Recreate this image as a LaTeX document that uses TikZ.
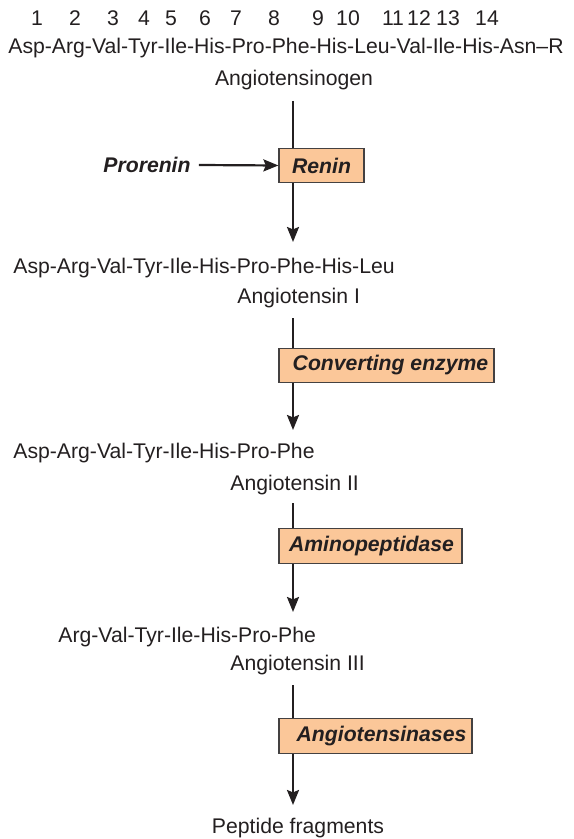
\documentclass[tikz,border=0pt]{standalone}
\usepackage{fontspec}
\setmainfont{Liberation Sans}
\usepackage{xcolor}
\usetikzlibrary{arrows.meta,positioning,calc}
\definecolor{enzfill}{RGB}{251,199,153}
\definecolor{ink}{RGB}{35,31,32}
\tikzset{
	seq/.style={inner sep=0pt,text=ink,font=\fontsize{10.6}{12.7}\selectfont},
	enzbox/.style={draw=ink!85,line width=0.6pt,fill=enzfill,minimum height=17.3pt,inner sep=0pt,text=ink,font=\fontsize{10.6}{12.7}\selectfont\bfseries\itshape},
	arr/.style={draw=ink,line width=1.1pt,-{Stealth[length=7.5pt,width=6pt,inset=1.2pt]}}
}

\begin{document}
\begin{tikzpicture}[x=0.5pt,y=-0.5pt]
	\useasboundingbox (0,0) rectangle (573,839);
	
	% residue numbers
	\foreach \n/\xx in {1/37,2/75,3/113,4/144,5/171,6/205,7/236,8/274,9/318,10/348,11/393,12/419,13/448,14/487}
		\node[seq] (num\n) at (\xx,18) {\n};
	
	% angiotensinogen
	\node[seq,anchor=west] (seq0) at (8,48) {Asp-Arg-Val-Tyr-Ile-His-Pro-Phe-His-Leu-Val-Ile-His-Asn–R};
	\node[seq] (agen) at (294,80) {Angiotensinogen};
	
	% main stem
	\coordinate (t1) at (293,101);
	\coordinate (h1) at (293,242);
	\coordinate (t2) at (293,318);
	\coordinate (h2) at (293,430);
	\coordinate (t3) at (293,503);
	\coordinate (h3) at (293,612);
	\coordinate (t4) at (293,685);
	\coordinate (h4) at (293,805);
	
	\draw[arr] (t1)--(h1);
	\draw[arr] (t2)--(h2);
	\draw[arr] (t3)--(h3);
	\draw[arr] (t4)--(h4);
	
	% enzymes
	\node[enzbox,minimum width=42.5pt] (renin) at (321.5,165.5) {Renin\hspace{5pt}};
	\node[enzbox,minimum width=107.5pt] (ace) at (386.5,365.5) {\hspace{4pt}Converting enzyme};
	\node[enzbox,minimum width=91.5pt] (amino) at (370.5,546) {\hspace{1pt}Aminopeptidase};
	\node[enzbox,minimum width=96.5pt] (ases) at (375.5,736) {\hspace{6pt}Angiotensinases};
	
	\node[seq,font=\fontsize{10.6}{12.7}\selectfont\bfseries\itshape] (pro) at (147,165) {Prorenin};
	\draw[arr] ([xshift=4pt]pro.east)--(renin.west);
	
	% products
	\node[seq,anchor=west] (seq1) at (13,268) {Asp-Arg-Val-Tyr-Ile-His-Pro-Phe-His-Leu};
	\node[seq,anchor=west] (ang1) at (237,298) {Angiotensin I};
	
	\node[seq,anchor=west] (seq2) at (13,453) {Asp-Arg-Val-Tyr-Ile-His-Pro-Phe};
	\node[seq,anchor=west] (ang2) at (230,485) {Angiotensin II};
	
	\node[seq,anchor=west] (seq3) at (58,637) {Arg-Val-Tyr-Ile-His-Pro-Phe};
	\node[seq,anchor=west] (ang3) at (230,665) {Angiotensin III};
	
	\node[seq] (frag) at (298,828) {Peptide fragments};
\end{tikzpicture}
\end{document}
